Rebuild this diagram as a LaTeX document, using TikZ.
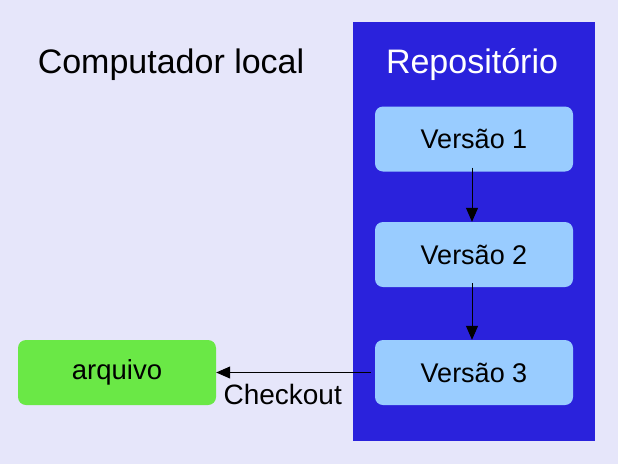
\documentclass[tikz,border=0pt]{standalone}
\usepackage{fontspec}
\setmainfont{Liberation Sans}
\usetikzlibrary{arrows.meta}
\definecolor{bgc}{HTML}{E6E6FA}
\definecolor{repoblue}{HTML}{2A22DC}
\definecolor{verblue}{HTML}{99CCFF}
\definecolor{filegreen}{HTML}{6AE846}
\begin{document}
\begin{tikzpicture}[x=1pt,y=-1pt,
  ver/.style={draw=none,fill=verblue,rounded corners=8pt,minimum width=198pt,minimum height=65pt,font=\fontsize{27}{30}\selectfont,inner sep=0pt},
  filebox/.style={draw=none,fill=filegreen,rounded corners=8pt,minimum width=198pt,minimum height=65pt,font=\fontsize{27.5}{30}\selectfont,inner sep=0pt},
  conn/.style={-{Triangle[length=14pt,width=12pt]},line width=1pt}]
\fill[bgc] (0,0) rectangle (618,464);
\useasboundingbox (0,0) rectangle (618,464);
\node[draw=none,fill=repoblue,minimum width=242pt,minimum height=419pt,inner sep=0pt] (repo) at (474,231.5) {};
\node[anchor=base,font=\fontsize{34}{36}\selectfont] (loc) at (171,73) {Computador local};
\node[anchor=base,font=\fontsize{34}{36}\selectfont,text=white] (rt) at (472,73) {Repositório};
\node[ver] (v1) at (474,139) {Versão 1};
\node[ver] (v2) at (474,254.5) {Versão 2};
\node[ver] (v3) at (474,372.5) {Versão 3};
\node[filebox] (arq) at (117,372.5) {arquivo};
\coordinate (s1) at ([yshift=4pt]v1.south -| 472,0);
\coordinate (e1) at (v2.north -| 472,0);
\coordinate (s2) at ([yshift=4pt]v2.south -| 472,0);
\coordinate (e2) at (v3.north -| 472,0);
\draw[conn] (s1) -- (e1);
\draw[conn] (s2) -- (e2);
\coordinate (s3) at ([xshift=-4pt]v3.west);
\draw[conn] (s3) -- (arq.east) node[pos=0.57,anchor=north,yshift=-11pt,font=\fontsize{28}{30}\selectfont,inner sep=0pt] (ck) {Checkout};
\end{tikzpicture}
\end{document}
